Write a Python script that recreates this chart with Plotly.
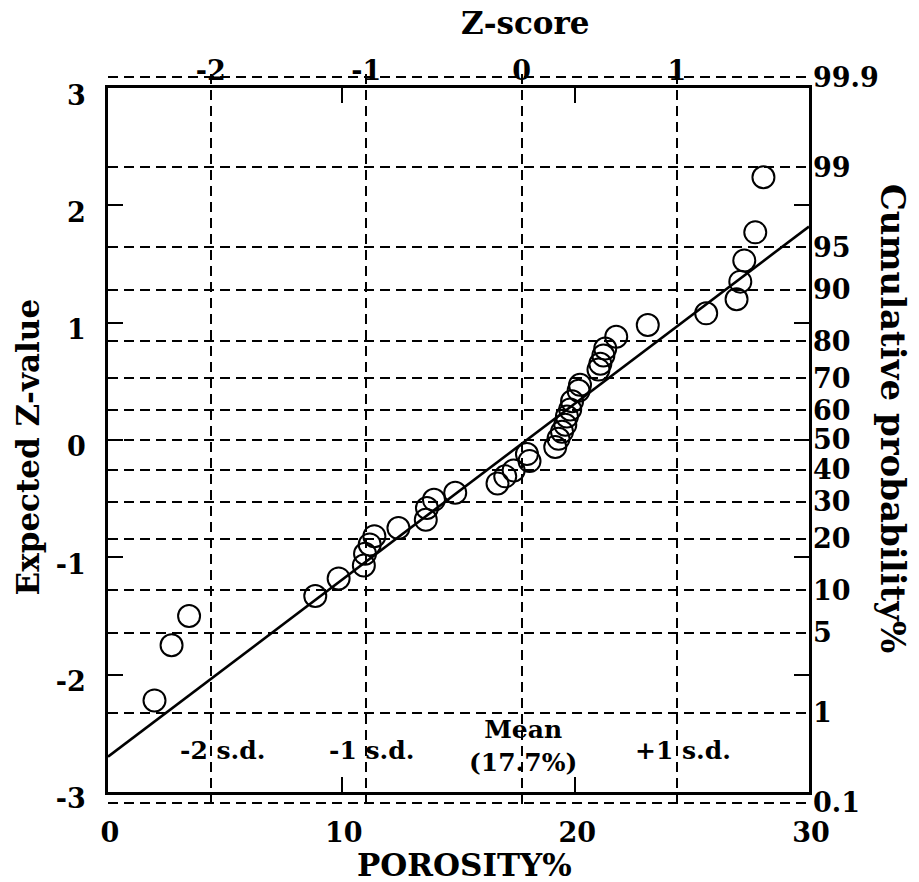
from statistics import NormalDist
import plotly.graph_objects as go

# ---- data ----
porosity = [1.99, 2.72, 3.47, 8.87, 9.87, 10.95, 11.0, 11.2, 11.4, 12.43,
            13.6, 13.65, 13.95, 14.86, 16.67, 17.0, 17.36, 18.04, 17.93, 19.14,
            19.28, 19.43, 19.57, 19.64, 19.78, 19.86, 20.14, 20.2, 20.99, 21.07,
            21.2, 21.28, 21.75, 23.1, 25.6, 26.9, 27.06, 27.23, 27.7, 28.05]
expected_z = [-2.22, -1.75, -1.50, -1.33, -1.18, -1.07, -0.97, -0.89, -0.82, -0.75,
              -0.68, -0.58, -0.51, -0.45, -0.37, -0.31, -0.26, -0.18, -0.12, -0.06,
              0.01, 0.07, 0.13, 0.20, 0.26, 0.33, 0.42, 0.47, 0.60, 0.65,
              0.72, 0.78, 0.88, 0.98, 1.08, 1.20, 1.35, 1.53, 1.77, 2.24]

fit_porosity = [0, 30]
fit_z = [-2.70, 1.82]

mean_porosity = 17.7
sd_porosity = 6.65
zscore_ticks = [-2, -1, 0, 1]

prob_ticks = [0.1, 1, 5, 10, 20, 30, 40, 50, 60, 70, 80, 90, 95, 99, 99.9]
prob_labels = ["0.1", "1", "5", "10", "20", "30", "40", "50", "60", "70",
               "80", "90", "95", "99", "99.9"]

x_ticks = [0, 10, 20, 30]
z_ticks = [-3, -2, -1, 0, 1, 2, 3]

# ---- derived scale positions ----
nd = NormalDist()
prob_z = [nd.inv_cdf(p / 100.0) for p in prob_ticks]
zscore_pos = [mean_porosity + k * sd_porosity for k in zscore_ticks]

R = 3.12
d0 = (R - 3) / (2 * R)

FONT = "DejaVu Serif"
tick_font = dict(family=FONT, size=27, color="black", weight="bold")
title_font = dict(family=FONT, size=31, color="black", weight="bold")
GRID_DASH = "10px,6px"

fig = go.Figure()

# fitted line on the frame subplot
fig.add_trace(go.Scatter(
    x=fit_porosity, y=fit_z, mode="lines",
    line=dict(color="black", width=2.6),
    xaxis="x", yaxis="y", showlegend=False, hoverinfo="skip"))

# data points on the grid subplot (same scale)
fig.add_trace(go.Scatter(
    x=porosity, y=expected_z, mode="markers",
    marker=dict(symbol="circle-open", size=22, color="black",
                line=dict(color="black", width=2)),
    xaxis="x2", yaxis="y2", showlegend=False))

fig.update_layout(
    width=919, height=882,
    margin=dict(l=108, r=110, t=74, b=76),
    paper_bgcolor="white",
    plot_bgcolor="rgba(0,0,0,0)",
    showlegend=False,
    # frame subplot (x, y)
    xaxis=dict(domain=[0, 1], range=[0, 30], anchor="y",
               tickvals=x_ticks, ticktext=[str(v) for v in x_ticks],
               ticks="inside", ticklen=15, tickwidth=2, tickcolor="black",
               showline=True, linewidth=2.6, linecolor="black", mirror="ticks",
               showgrid=False, zeroline=False, tickfont=tick_font,
               ticklabelstandoff=15, ticklabelshift=2),
    yaxis=dict(domain=[d0, 1 - d0], range=[-3, 3], anchor="x",
               tickvals=z_ticks, ticktext=[str(v) for v in z_ticks],
               ticks="inside", ticklen=15, tickwidth=2, tickcolor="black",
               showline=True, linewidth=2.6, linecolor="black", mirror="ticks",
               showgrid=False, zeroline=False, tickfont=tick_font,
               ticklabelstandoff=14, ticklabelshift=7),
    # grid subplot (x2, y2)
    xaxis2=dict(domain=[0, 1], range=[0, 30], anchor="y2", side="top",
                tickvals=zscore_pos, ticktext=[str(k) for k in zscore_ticks],
                ticks="", showline=False, zeroline=False,
                showgrid=True, gridcolor="black", gridwidth=2.4,
                griddash=GRID_DASH, tickfont=tick_font,
                ticklabelstandoff=-12),
    yaxis2=dict(domain=[0, 1], range=[-R, R], anchor="x2", side="right",
                tickvals=prob_z, ticktext=prob_labels,
                ticks="", showline=False, zeroline=False,
                showgrid=True, gridcolor="black", gridwidth=2.4,
                griddash=GRID_DASH, tickfont=tick_font,
                ticklabelstandoff=3),
)

ann_font = dict(family=FONT, size=25, color="black", weight="bold")
annotations = [
    dict(text="-2 s.d.", x=4.89, y=-2.65, xref="x2", yref="y2", showarrow=False, font=ann_font),
    dict(text="-1 s.d.", x=11.27, y=-2.65, xref="x2", yref="y2", showarrow=False, font=ann_font),
    dict(text="Mean<br>(17.7%)", x=17.75, y=-2.61, xref="x2", yref="y2", showarrow=False, font=ann_font),
    dict(text="+1 s.d.", x=24.62, y=-2.65, xref="x2", yref="y2", showarrow=False, font=ann_font),
    dict(text="Z-score", x=0.596, y=1.069, xref="paper", yref="paper", showarrow=False,
         font=title_font, xanchor="center", yanchor="middle"),
    dict(text="POROSITY%", x=0.509, y=-0.08, xref="paper", yref="paper", showarrow=False,
         font=title_font, xanchor="center", yanchor="middle"),
    dict(text="Expected Z-value", x=-0.114, y=0.49, xref="paper", yref="paper", showarrow=False,
         font=title_font, textangle=-90, xanchor="center", yanchor="middle"),
    dict(text="Cumulative probability%", x=1.12, y=0.529, xref="paper", yref="paper", showarrow=False,
         font=dict(family=FONT, size=34, color="black", weight="bold"),
         textangle=90, xanchor="center", yanchor="middle"),
]
fig.update_layout(annotations=annotations)

fig.write_html("out.html")
